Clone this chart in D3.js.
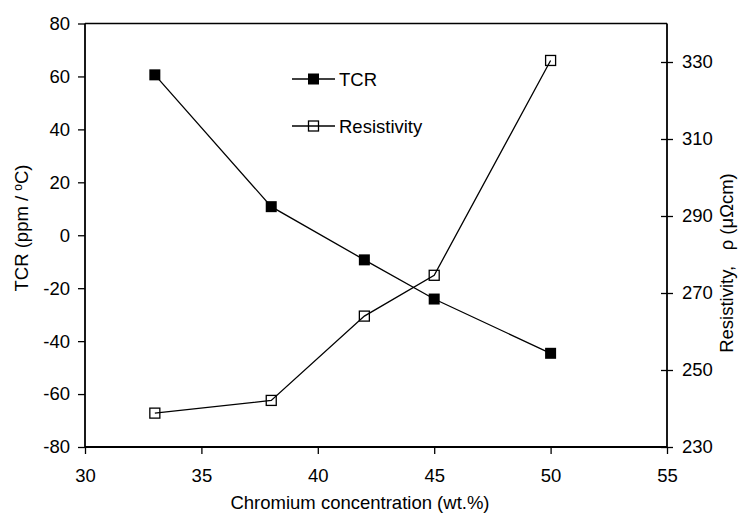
<!DOCTYPE html>
<html>
<head>
<meta charset="utf-8">
<script src="https://cdn.jsdelivr.net/npm/d3@7"></script>
<style>
  body { margin: 0; background: #fff; }
  text { font-family: "Liberation Sans", Arial, sans-serif; fill: #000; }
</style>
</head>
<body>
<div id="chart"></div>
<script>
// data
var chromium = [33, 38, 42, 45, 50];
var tcr = [60.6, 10.8, -9.3, -24.1, -44.6];
var resistivity = [238.8, 242.1, 264.0, 274.6, 330.4];
var xTicks = [30, 35, 40, 45, 50, 55];
var tcrTicks = [-80, -60, -40, -20, 0, 20, 40, 60, 80];
var resTicks = [230, 250, 270, 290, 310, 330];

var width = 743,
    height = 516,
    margin_left = 85,
    margin_right = 76,
    margin_top = 23.5,
    margin_bottom = 69,
    fontSize = 18.5;

var svg = d3.select("#chart").append("svg")
    .attr("width", width)
    .attr("height", height);

var x = d3.scaleLinear()
    .domain([30, 55])
    .range([margin_left, width - margin_right]);
var yLeft = d3.scaleLinear()
    .domain([-80, 80])
    .range([height - margin_bottom, margin_top]);
var yRight = d3.scaleLinear()
    .domain([230, 340])
    .range([height - margin_bottom, margin_top]);

var plain = function(d) { return String(d); }; // keep hyphen minus like the original

// frame top line
svg.append("line")
    .attr("x1", x(30)).attr("x2", x(55))
    .attr("y1", yLeft(80)).attr("y2", yLeft(80))
    .attr("stroke", "#000").attr("stroke-width", 1.3);

// axes
var xAxis = svg.append("g")
    .attr("transform", "translate(0," + yLeft(-80) + ")")
    .call(d3.axisBottom(x).tickValues(xTicks).tickFormat(plain).tickSize(7).tickPadding(15));
var leftAxis = svg.append("g")
    .attr("transform", "translate(" + x(30) + ",0)")
    .call(d3.axisLeft(yLeft).tickValues(tcrTicks).tickFormat(plain).tickSize(7).tickPadding(8));
var rightAxis = svg.append("g")
    .attr("transform", "translate(" + x(55) + ",0)")
    .call(d3.axisRight(yRight).tickValues(resTicks).tickFormat(plain).tickSize(6).tickPadding(9));
rightAxis.selectAll(".tick line").attr("x1", -6);

[xAxis, leftAxis, rightAxis].forEach(function(g) {
    g.select(".domain").attr("stroke-width", 1.8);
    g.selectAll(".tick line").attr("stroke-width", 1.3);
    g.selectAll("text")
        .attr("font-size", fontSize)
        .attr("font-family", "Liberation Sans, Arial, sans-serif");
});
// trim the domain end caps
xAxis.select(".domain").attr("d", "M" + x(30) + ",0H" + x(55));
leftAxis.select(".domain").attr("d", "M0," + yLeft(-80) + "V" + yLeft(80));
rightAxis.select(".domain").attr("d", "M0," + yRight(230) + "V" + yLeft(80));

// lines
var tcrLine = d3.line()
    .x(function(d, i) { return x(chromium[i]); })
    .y(function(d) { return yLeft(d); });
var resLine = d3.line()
    .x(function(d, i) { return x(chromium[i]); })
    .y(function(d) { return yRight(d); });

svg.append("path")
    .attr("d", tcrLine(tcr))
    .attr("fill", "none").attr("stroke", "#000").attr("stroke-width", 1.3);
svg.append("path")
    .attr("d", resLine(resistivity))
    .attr("fill", "none").attr("stroke", "#000").attr("stroke-width", 1.3);

// markers
var sz = 11, szo = 10;
svg.append("g").selectAll("rect")
    .data(tcr)
    .join("rect")
        .attr("x", function(d, i) { return x(chromium[i]) - sz / 2; })
        .attr("y", function(d) { return yLeft(d) - sz / 2; })
        .attr("width", sz).attr("height", sz)
        .attr("fill", "#000");
svg.append("g").selectAll("rect")
    .data(resistivity)
    .join("rect")
        .attr("x", function(d, i) { return x(chromium[i]) - szo / 2; })
        .attr("y", function(d) { return yRight(d) - szo / 2; })
        .attr("width", szo).attr("height", szo)
        .attr("fill", "none").attr("stroke", "#000").attr("stroke-width", 1.3);

// legend
var legend = svg.append("g").attr("transform", "translate(292,79)");
legend.append("line").attr("x1", 0).attr("x2", 43).attr("y1", 0).attr("y2", 0)
    .attr("stroke", "#000").attr("stroke-width", 1.3);
legend.append("rect").attr("x", 21.5 - sz / 2).attr("y", -sz / 2)
    .attr("width", sz).attr("height", sz).attr("fill", "#000");
legend.append("text").attr("x", 47).attr("y", 6.5).attr("font-size", fontSize).text("TCR");
legend.append("line").attr("x1", 0).attr("x2", 43).attr("y1", 47).attr("y2", 47)
    .attr("stroke", "#000").attr("stroke-width", 1.3);
legend.append("rect").attr("x", 21.5 - szo / 2).attr("y", 47 - szo / 2)
    .attr("width", szo).attr("height", szo)
    .attr("fill", "none").attr("stroke", "#000").attr("stroke-width", 1.3);
legend.append("text").attr("x", 47).attr("y", 53.5).attr("font-size", fontSize).text("Resistivity");

// axis titles
svg.append("text")
    .attr("x", 360)
    .attr("y", 509)
    .attr("text-anchor", "middle")
    .attr("font-size", fontSize)
    .text("Chromium concentration (wt.%)");

var leftTitle = svg.append("text")
    .attr("transform", "translate(28,228) rotate(-90)")
    .attr("text-anchor", "middle")
    .attr("font-size", fontSize);
leftTitle.append("tspan").text("TCR (ppm / ");
leftTitle.append("tspan").attr("dy", -6).attr("font-size", 12).text("o");
leftTitle.append("tspan").attr("dy", 6).text("C)");

svg.append("text")
    .attr("transform", "translate(733,263) rotate(-90)")
    .attr("text-anchor", "middle")
    .attr("font-size", fontSize)
    .attr("xml:space", "preserve")
    .text("Resistivity,   \u03c1 (\u03bc\u03a9cm)");
</script>
</body>
</html>
